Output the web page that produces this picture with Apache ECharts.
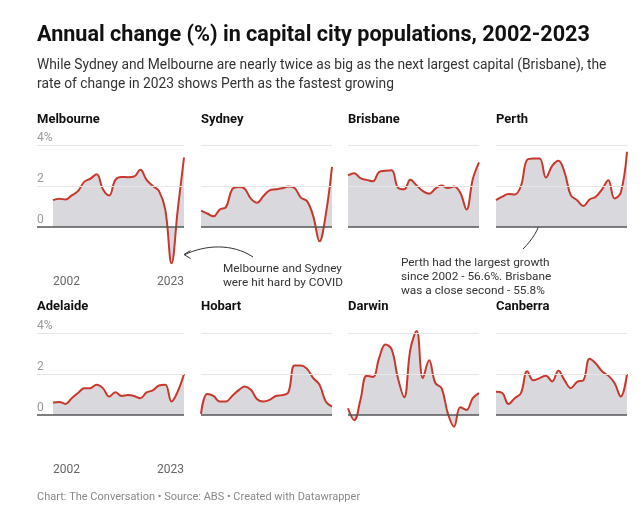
<!DOCTYPE html>
<html><head><meta charset="utf-8">
<script src="https://cdn.jsdelivr.net/npm/echarts@6/dist/echarts.min.js"></script>
<style>html,body{margin:0;padding:0;background:#fff}#c{width:644px;height:530px}</style>
</head><body><div id="c"></div>
<script>
const years = [2002,2003,2004,2005,2006,2007,2008,2009,2010,2011,2012,2013,2014,2015,2016,2017,2018,2019,2020,2021,2022,2023];
const cities = ['Melbourne','Sydney','Brisbane','Perth','Adelaide','Hobart','Darwin','Canberra'];
const melbourne = [1.31,1.38,1.34,1.54,1.75,2.2,2.36,2.57,1.84,1.54,2.3,2.44,2.43,2.46,2.79,2.3,2.0,1.75,0.85,-1.77,0.85,3.39];
const sydney    = [0.80,0.66,0.52,0.85,0.97,1.84,1.95,1.87,1.38,1.18,1.51,1.79,1.84,1.89,1.97,1.9,1.43,1.26,0.52,-0.7,0.6,2.93];
const brisbane  = [2.52,2.62,2.38,2.3,2.23,2.69,2.74,2.77,1.92,1.84,2.3,2.03,1.75,1.62,1.87,2.02,1.9,1.97,1.67,0.85,2.33,3.15];
const perth     = [1.31,1.48,1.61,1.59,2.0,3.28,3.34,3.34,2.41,2.98,3.23,2.66,1.54,1.31,1.02,1.34,1.48,1.84,2.28,1.39,1.67,3.67];
const adelaide  = [0.61,0.64,0.54,0.82,1.07,1.3,1.31,1.48,1.31,0.9,1.11,0.93,0.97,0.93,0.82,1.1,1.2,1.44,1.48,0.66,1.15,2.0];
const hobart    = [0.05,1.02,0.93,0.66,0.66,0.93,1.2,1.39,1.23,0.77,0.66,0.74,0.93,0.97,1.1,2.41,2.41,2.25,1.8,1.48,0.66,0.41];
const darwin    = [0.33,-0.25,0.74,1.92,1.85,2.79,3.44,3.2,1.8,0.87,3.2,4.1,1.8,2.67,1.56,1.31,0.08,-0.57,0.38,0.25,0.82,1.07];
const canberra  = [1.13,1.07,0.54,0.82,1.07,2.13,1.69,1.8,1.92,1.64,2.16,1.69,1.31,1.62,1.69,2.74,2.51,2.13,1.92,1.56,0.9,2.0];
const seriesValues = [melbourne,sydney,brisbane,perth,adelaide,hobart,darwin,canberra];
const yTickLabels = {'0':'0','2':'2','4':'4%'};
const xTickValues = [2002, 2023];

const FONT = 'Roboto, "Noto Sans", sans-serif';
const colLeft = [53, 201, 348, 496];
const panelW = 131;
const rowTop = [145, 333];
const panelH = 123;
const yearPx = panelW / (years.length - 1);

const grids = [], xAxes = [], yAxes = [], series = [], titles = [];
titles.push({text:'Annual change (%) in capital city populations, 2002-2023', left:37, top:25, padding:0,
  textStyle:{fontFamily:FONT, fontSize:21.6, fontWeight:'bold', color:'#111'}});
titles.push({text:'While Sydney and Melbourne are nearly twice as big as the next largest capital (Brisbane), the\nrate of change in 2023 shows Perth as the fastest growing', left:37, top:56, padding:0,
  textStyle:{fontFamily:FONT, fontSize:13.8, fontWeight:'normal', color:'#333', lineHeight:19}});
titles.push({text:'Chart: The Conversation • Source: ABS • Created with Datawrapper', left:37, top:492, padding:0,
  textStyle:{fontFamily:FONT, fontSize:11, fontWeight:'normal', color:'#888'}});

cities.forEach((name, i) => {
  const col = i % 4, row = Math.floor(i / 4);
  const first = col === 0;
  const left = first ? 37 : colLeft[col];
  const width = first ? panelW + 16 : panelW;
  grids.push({left:left, top:rowTop[row], width:width, height:panelH, containLabel:false});
  titles.push({text:name, left:first ? 37 : colLeft[col], top: row === 0 ? 113 : 300, padding:0,
    textStyle:{fontFamily:FONT, fontSize:13, fontWeight:'bold', color:'#111'}});
  xAxes.push({type:'value', gridIndex:i, min: first ? 2002 - 16 / yearPx : 2002, max:2023,
    axisLine:{show:false}, axisTick:{show:false}, splitLine:{show:false},
    axisLabel:{show:first, customValues:xTickValues, color:'#666', fontFamily:FONT, fontSize:12,
      margin:8, align:'left', alignMinLabel:'left', alignMaxLabel:'right', formatter: v => String(v)}});
  yAxes.push({type:'value', gridIndex:i, min:-2, max:4, interval:2,
    axisLine:{show:false}, axisTick:{show:false}, splitLine:{show:false},
    axisLabel:{show:first, inside:true, margin:0, verticalAlign:'bottom', padding:[0,0,1,0],
      color:'#999', fontFamily:FONT, fontSize:12,
      formatter: v => yTickLabels[String(v)] || ''}});
  series.push({type:'line', xAxisIndex:i, yAxisIndex:i, data: years.map((y, k) => [y, seriesValues[i][k]]),
    smooth:0.4, showSymbol:false, clip:false, z:3,
    lineStyle:{color:'#c8382c', width:2},
    areaStyle:{color:'#d9d8dd', opacity:1, origin:0},
    markLine:{silent:true, symbol:'none', label:{show:false}, animation:false,
      data:[
        {yAxis:4, lineStyle:{color:'#e6e6e6', width:1, type:'solid'}},
        {yAxis:2, lineStyle:{color:'#e6e6e6', width:1, type:'solid'}},
        {yAxis:0, lineStyle:{color:'#555', width:1.5, type:'solid'}}
      ]}
  });
});

const graphic = [
  {type:'text', left:223, top:262, style:{text:'Melbourne and Sydney\nwere hit hard by COVID', font:'11.8px ' + FONT, fill:'#333', lineHeight:14}},
  {type:'text', left:401, top:256, style:{text:'Perth had the largest growth\nsince 2002 - 56.6%. Brisbane\nwas a close second - 55.8%', font:'11.8px ' + FONT, fill:'#333', lineHeight:14}},
  {type:'bezierCurve', shape:{x1:253, y1:257, cpx1:232, cpy1:243, cpx2:205, cpy2:245, x2:185, y2:254.5}, style:{stroke:'#333', lineWidth:1, fill:null}},
  {type:'polyline', shape:{points:[[190.5,250.5],[184,254.5],[190.5,258.5]]}, style:{stroke:'#333', lineWidth:1, fill:null}},
  {type:'bezierCurve', shape:{x1:523, y1:249, cpx1:532, cpy1:240, cpx2:539, cpy2:230, x2:541.5, y2:216.5}, style:{stroke:'#333', lineWidth:1, fill:null}},
  {type:'polyline', shape:{points:[[537.5,221],[541.5,216],[544,222]]}, style:{stroke:'#333', lineWidth:1, fill:null}}
];

const chart = echarts.init(document.getElementById('c'), null, {renderer:'canvas'});
chart.setOption({backgroundColor:'#fff', animation:false, title:titles, grid:grids, xAxis:xAxes, yAxis:yAxes, series:series, graphic:graphic});
</script></body></html>
